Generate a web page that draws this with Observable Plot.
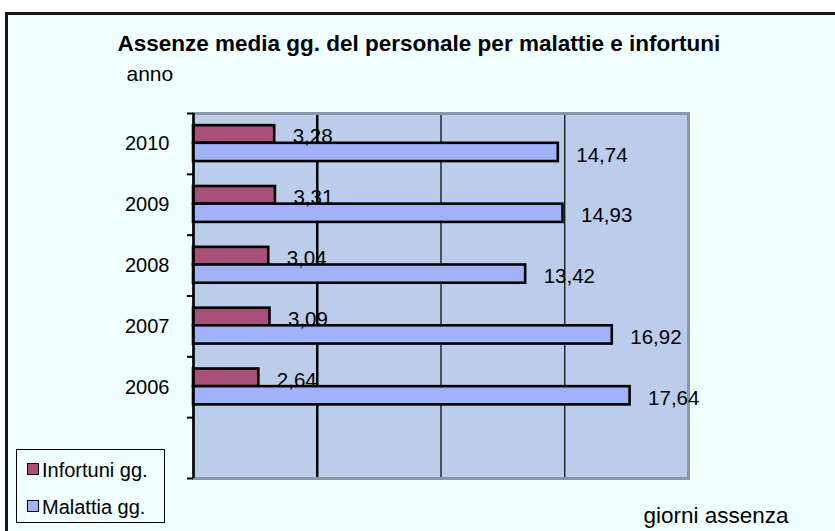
<!DOCTYPE html>
<html>
<head>
<meta charset="utf-8">
<script src="https://cdn.jsdelivr.net/npm/d3@7"></script>
<script src="https://cdn.jsdelivr.net/npm/@observablehq/plot@0.6"></script>
<style>
  html, body { margin: 0; padding: 0; background: #fff; }
  #wrap { position: relative; width: 835px; height: 531px; overflow: hidden; background: #fff;
          font-family: "Liberation Sans", Arial, sans-serif; }
  #frame { position: absolute; left: 5px; top: 12px; width: 900px; height: 600px;
           border-top: 3px solid #151515; border-left: 3px solid #151515; background: #F0FFFF; }
  #chart { position: absolute; left: 0; top: 0; }
  #legend { position: absolute; left: 16px; top: 449px; width: 149px; height: 74px;
            border: 1px solid #000; box-sizing: border-box; }
  .item { position: absolute; left: 0; font-size: 20px; line-height: 1; color: #000; white-space: nowrap; }
  .sw { position: absolute; left: 10px; width: 10px; height: 10px; border: 1.5px solid #000; }
  .lt { position: absolute; left: 25px; }
</style>
</head>
<body>
<div id="wrap">
  <div id="frame"></div>
  <div id="chart"></div>
  <div id="legend"></div>
</div>
<script>
// ---- data ----
const years = ["2010", "2009", "2008", "2007", "2006"];
const infortuni = [3.28, 3.31, 3.04, 3.09, 2.64];
const malattia = [14.74, 14.93, 13.42, 16.92, 17.64];
const seriesNames = ["Infortuni gg.", "Malattia gg."];
const seriesColors = ["#A8507A", "#A2B2F8"];
const gridValues = [5, 10, 15];
const titleText = "Assenze media gg. del personale per malattie e infortuni";
const yTitle = "anno";
const xTitle = "giorni assenza";

const rows = years.map((year, i) => ({ year, i, inf: infortuni[i], mal: malattia[i] }));
const fmt = v => v.toFixed(2).replace(".", ",");

const chart = Plot.plot({
  width: 835,
  height: 531,
  marginLeft: 193,
  marginRight: 147,
  marginTop: 113,
  marginBottom: 53,
  x: { domain: [0, 20], axis: null },
  y: { domain: [0, years.length + 1], reverse: true, axis: null },
  style: { background: "transparent", fontFamily: "'Liberation Sans', Arial, sans-serif", fontSize: "20px", color: "#000" },
  marks: [
    Plot.frame({ fill: "#BCCCEB" }),
    Plot.ruleX(gridValues, { stroke: "#000", strokeWidth: d => d === 5 ? 2.5 : 1.2 }),
    Plot.frame({ stroke: "#8A98AC", strokeWidth: 3 }),
    Plot.rect(rows, { x1: () => 0, x2: "inf", y1: d => d.i + 0.2, y2: d => d.i + 0.49,
      fill: seriesColors[0], stroke: "#000", strokeWidth: 2.6 }),
    Plot.rect(rows, { x1: () => 0, x2: "mal", y1: d => d.i + 0.49, y2: d => d.i + 0.79,
      fill: seriesColors[1], stroke: "#000", strokeWidth: 2.6 }),
    Plot.text(rows, { x: "inf", y: d => d.i + 0.49, text: d => fmt(d.inf), dx: 18,
      textAnchor: "start", lineAnchor: "bottom", fontSize: 20.5, fill: "#000" }),
    Plot.text(rows, { x: "mal", y: d => d.i + 0.79, text: d => fmt(d.mal), dx: 18,
      textAnchor: "start", lineAnchor: "bottom", fontSize: 20.5, fill: "#000" }),
    Plot.ruleX([0], { stroke: "#000", strokeWidth: 2.5 }),
    Plot.axisY({ ticks: d3.range(0, years.length + 2), tickSize: 6, tickFormat: () => "",
      stroke: "#000", strokeWidth: 2 }),
    Plot.axisY({ ticks: years.map((_, i) => i + 0.5), tickSize: 0, tickPadding: 24,
      tickFormat: v => years[Math.floor(v)], fontSize: 20, fill: "#000" }),
    Plot.text([titleText], { text: d => d, frameAnchor: "top-left", dx: -76, dy: -63,
      textAnchor: "start", lineAnchor: "bottom", fontWeight: "bold", fontSize: 22.5, fill: "#000" }),
    Plot.text([yTitle], { text: d => d, frameAnchor: "top-left", dx: -67, dy: -33,
      textAnchor: "start", lineAnchor: "bottom", fontSize: 21, fill: "#000" }),
    Plot.text([xTitle], { text: d => d, frameAnchor: "bottom-left", dx: 450, dy: 44,
      textAnchor: "start", lineAnchor: "bottom", fontSize: 22.5, fill: "#000" })
  ]
});
document.getElementById("chart").appendChild(chart);

// legend
const legend = document.getElementById("legend");
seriesNames.forEach((name, k) => {
  const item = document.createElement("div");
  item.className = "item";
  item.style.top = (k === 0 ? 10 : 47) + "px";
  const sw = document.createElement("div");
  sw.className = "sw";
  sw.style.background = seriesColors[k];
  sw.style.top = "3px";
  const lt = document.createElement("span");
  lt.className = "lt";
  lt.textContent = name;
  item.appendChild(sw);
  item.appendChild(lt);
  legend.appendChild(item);
});
</script>
</body>
</html>
